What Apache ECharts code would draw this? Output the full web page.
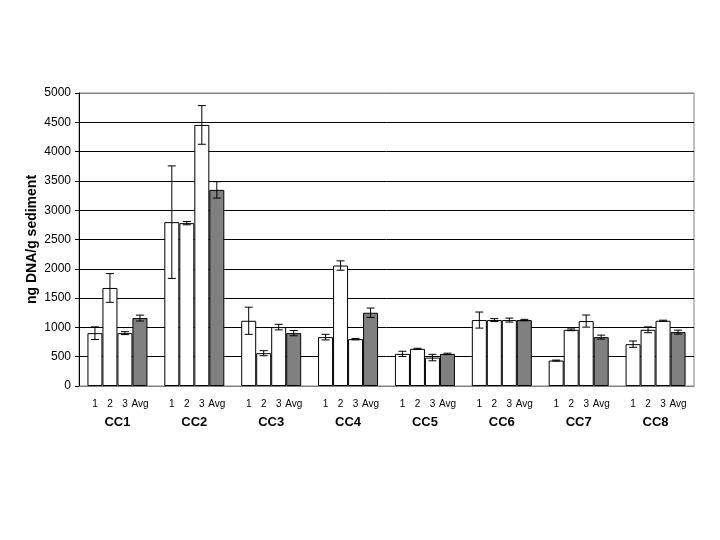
<!DOCTYPE html>
<html>
<head>
<meta charset="utf-8">
<script src="https://cdn.jsdelivr.net/npm/echarts@6/dist/echarts.min.js"></script>
<style>
  html, body { margin: 0; padding: 0; background: #fff; }
  #chart { width: 720px; height: 540px; }
</style>
</head>
<body>
<div id="chart"></div>
<script>
// sites and replicate names
var groups = ['CC1', 'CC2', 'CC3', 'CC4', 'CC5', 'CC6', 'CC7', 'CC8'];
var subNames = ['1', '2', '3', 'Avg'];

// ng DNA / g sediment
var rep1 = [902, 2796, 1113, 834, 548, 1125, 434, 714];
var rep2 = [1673, 2779, 560, 2056, 634, 1125, 959, 959];
var rep3 = [902, 4455, 1005, 800, 485, 1125, 1108, 1113];
var avg  = [1159, 3347, 902, 1250, 548, 1125, 834, 919];

// error bar half-lengths
var err1 = [108, 960, 232, 48, 45, 137, 8, 54];
var err2 = [245, 28, 43, 80, 10, 25, 15, 50];
var err3 = [25, 330, 48, 12, 55, 34, 103, 10];
var errAvg = [50, 140, 45, 80, 12, 12, 34, 34];

var yTicks = [0, 500, 1000, 1500, 2000, 2500, 3000, 3500, 4000, 4500, 5000];

var chart = echarts.init(document.getElementById('chart'));
var font = 'Liberation Sans, Arial, sans-serif';
var barW = 15;

var values = [rep1, rep2, rep3, avg];
var errs = [err1, err2, err3, errAvg];

// error bar data: [group index, sub index, low, high]
var errData = [];
values.forEach(function(vals, s) {
  vals.forEach(function(v, g) {
    errData.push([g, s, v - errs[s][g], v + errs[s][g]]);
  });
});

var series = subNames.map(function(name, s) {
  return {
    name: name,
    type: 'bar',
    data: values[s],
    barWidth: barW,
    barGap: '0%',
    itemStyle: {
      color: s === 3 ? '#808080' : '#ffffff',
      borderColor: '#000',
      borderWidth: 1
    },
    label: {
      show: true,
      position: 'insideBottom',
      distance: 0,
      offset: [0, 23],
      formatter: '{a}',
      fontFamily: font,
      fontSize: 10,
      color: '#000'
    },
    silent: true
  };
});

series.push({
  type: 'custom',
  data: errData,
  encode: { x: 0, y: [2, 3] },
  z: 5,
  silent: true,
  renderItem: function(params, api) {
    var g = api.value(0), s = api.value(1);
    var lo = api.coord([g, api.value(2)]);
    var hi = api.coord([g, api.value(3)]);
    var x = lo[0] + (s - 1.5) * barW;
    var cap = 4;
    var style = { stroke: '#000', lineWidth: 1 };
    return {
      type: 'group',
      children: [
        { type: 'line', shape: { x1: x, y1: lo[1], x2: x, y2: hi[1] }, style: style },
        { type: 'line', shape: { x1: x - cap, y1: lo[1], x2: x + cap, y2: lo[1] }, style: style },
        { type: 'line', shape: { x1: x - cap, y1: hi[1], x2: x + cap, y2: hi[1] }, style: style }
      ]
    };
  }
});

// gridlines black, the top one gray like the plot frame
var splitColors = yTicks.map(function(t, i) {
  return i === yTicks.length - 1 ? '#808080' : '#000';
});

var option = {
  animation: false,
  backgroundColor: '#fff',
  grid: {
    left: 79, right: 26, top: 93, bottom: 154,
    show: true, borderColor: '#808080', borderWidth: 1
  },
  xAxis: {
    type: 'category',
    data: groups,
    axisLine: { lineStyle: { color: '#808080' } },
    axisTick: { show: false },
    axisLabel: {
      margin: 30,
      fontFamily: font,
      fontSize: 13,
      fontWeight: 'bold',
      color: '#000'
    }
  },
  yAxis: {
    type: 'value',
    min: yTicks[0],
    max: yTicks[yTicks.length - 1],
    interval: 500,
    name: 'ng DNA/g sediment',
    nameLocation: 'middle',
    nameGap: 40,
    nameMoveOverlap: false,
    nameTextStyle: { fontFamily: font, fontSize: 14, fontWeight: 'bold', color: '#000' },
    axisLine: { show: true, lineStyle: { color: '#000' } },
    axisTick: { show: true, length: 4, lineStyle: { color: '#000' } },
    axisLabel: {
      margin: 8, fontFamily: font, fontSize: 12, color: '#000',
      formatter: function(v) { return String(v); }
    },
    splitLine: { lineStyle: { color: splitColors, width: 1 } }
  },
  series: series
};

chart.setOption(option);
</script>
</body>
</html>
